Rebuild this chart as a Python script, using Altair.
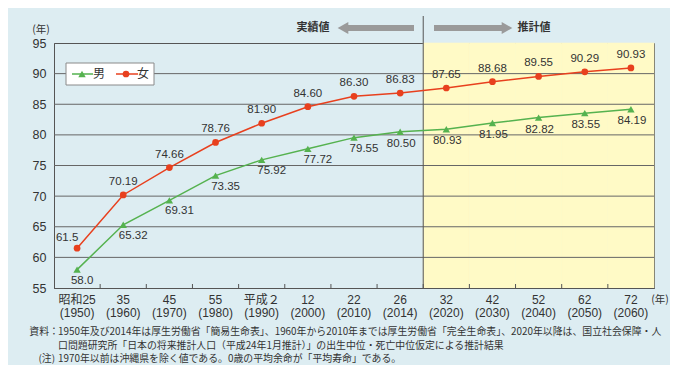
import altair as alt
import pandas as pd

cats = ["昭和25\n(1950)", "35\n(1960)", "45\n(1970)", "55\n(1980)", "平成２\n(1990)",
        "12\n(2000)", "22\n(2010)", "26\n(2014)", "32\n(2020)", "42\n(2030)",
        "52\n(2040)", "62\n(2050)", "72\n(2060)"]
male = [58.0, 65.32, 69.31, 73.35, 75.92, 77.72, 79.55, 80.50, 80.93, 81.95, 82.82, 83.55, 84.19]
female = [61.5, 70.19, 74.66, 78.76, 81.90, 84.60, 86.30, 86.83, 87.65, 88.68, 89.55, 90.29, 90.93]
male_labels = ["58.0", "65.32", "69.31", "73.35", "75.92", "77.72", "79.55", "80.50",
               "80.93", "81.95", "82.82", "83.55", "84.19"]
female_labels = ["61.5", "70.19", "74.66", "78.76", "81.90", "84.60", "86.30", "86.83",
                 "87.65", "88.68", "89.55", "90.29", "90.93"]
projection_start = 8  # index of first projected category
y_ticks = [55, 60, 65, 70, 75, 80, 85, 90, 95]
grid_vals = [60, 65, 70, 75, 80, 85, 90]

note_src_1 = "1950年及び2014年は厚生労働省「簡易生命表」、1960年から2010年までは厚生労働省「完全生命表」、2020年以降は、国立社会保障・人"
note_src_2 = "口問題研究所「日本の将来推計人口（平成24年1月推計）」の出生中位・死亡中位仮定による推計結果"
note_3 = "1970年以前は沖縄県を除く値である。0歳の平均余命が「平均寿命」である。"

GREEN = "#55b24f"
RED = "#e8401e"
GRID = "#666666"
AX = "#555555"
TXT = "#333333"
FONT = "Liberation Sans, Noto Sans CJK JP"
JFONT = "Noto Sans CJK JP"

df = pd.DataFrame({"cat": cats, "male": male, "female": female,
                   "ml": male_labels, "fl": female_labels, "idx": list(range(len(cats)))})
future = df[df["idx"] >= projection_start]
W, H = 600, 245

xscale = alt.Scale(type="band", domain=cats, paddingInner=0, paddingOuter=0)
xaxis = alt.Axis(title=None, ticks=False, domainColor=AX, labelColor=TXT, labelFont=FONT,
                 labelFontSize=12, labelPadding=6, labelLineHeight=13, labelBaseline="top",
                 labelExpr="split(datum.label, '\\n')", labelAngle=0)
X = alt.X("cat:N", scale=xscale, axis=xaxis, sort=cats)
yscale = alt.Scale(domain=[55, 95], nice=False, zero=False)
yaxis = alt.Axis(title=None, values=y_ticks, grid=False, ticks=False, domainColor=AX,
                 labelColor=TXT, labelFont=FONT, labelFontSize=12.5, labelPadding=8)

base = alt.Chart(df)

yellow = alt.Chart(future).mark_rect(color="#fffac6", stroke="#fffac6", strokeWidth=0.6).encode(
    x=X, y=alt.datum(95, scale=yscale, axis=yaxis), y2=alt.datum(55))

grid = alt.Chart(pd.DataFrame({"g": grid_vals})).mark_rule(color=GRID, strokeWidth=1).encode(
    y=alt.Y("g:Q", scale=yscale, axis=yaxis))

xt = alt.Chart(df[df["idx"] >= 1]).mark_rule(color=AX, strokeWidth=1).encode(
    x=alt.X("cat:N", scale=xscale, axis=xaxis, sort=cats, bandPosition=0),
    y=alt.value(H), y2=alt.value(H - 4))

divider = alt.Chart(df[df["idx"] == projection_start]).mark_rule(color=AX, strokeWidth=1).encode(
    x=alt.X("cat:N", scale=xscale, axis=xaxis, sort=cats, bandPosition=0),
    y=alt.value(-27), y2=alt.value(H))

Ym = alt.Y("male:Q", scale=yscale, axis=yaxis)
Yf = alt.Y("female:Q", scale=yscale, axis=yaxis)

m_line = base.mark_line(color=GREEN, strokeWidth=1.5).encode(x=X, y=Ym)
m_pt = base.mark_point(shape="triangle-up", filled=True, color=GREEN, size=55, opacity=1).encode(x=X, y=Ym)
f_line = base.mark_line(color=RED, strokeWidth=1.5).encode(x=X, y=Yf)
f_pt = base.mark_point(shape="circle", filled=True, color=RED, size=45, opacity=1).encode(x=X, y=Yf)

tstyle = dict(font=FONT, fontSize=11.5, color=TXT)
f_lab0 = alt.Chart(df[df["idx"] == 0]).mark_text(dx=-10, dy=-10, **tstyle).encode(x=X, y=Yf, text="fl:N")
f_lab = alt.Chart(df[df["idx"] >= 1]).mark_text(dy=-13, **tstyle).encode(x=X, y=Yf, text="fl:N")
m_lab0 = alt.Chart(df[df["idx"] == 0]).mark_text(dx=5, dy=11, **tstyle).encode(x=X, y=Ym, text="ml:N")
m_lab1 = alt.Chart(df[(df["idx"] >= 1) & (df["idx"] <= 6)]).mark_text(dx=10, dy=11, **tstyle).encode(x=X, y=Ym, text="ml:N")
m_lab2 = alt.Chart(df[df["idx"] >= 7]).mark_text(dx=1, dy=12, **tstyle).encode(x=X, y=Ym, text="ml:N")

one = alt.Chart(pd.DataFrame({"k": [0]}))

# legend
leg_box = one.mark_rect(fill="white", stroke="#8a8a8a", strokeWidth=1).encode(
    x=alt.value(12), x2=alt.value(100), y=alt.value(20), y2=alt.value(42))
leg_gl = one.mark_rule(color=GREEN, strokeWidth=1.5).encode(x=alt.value(18), x2=alt.value(39), y=alt.value(31))
leg_gp = one.mark_point(shape="triangle-up", filled=True, color=GREEN, size=55, opacity=1).encode(
    x=alt.value(28), y=alt.value(31))
leg_gt = one.mark_text(text="男", font=JFONT, fontSize=12, color=TXT).encode(x=alt.value(45), y=alt.value(31))
leg_rl = one.mark_rule(color=RED, strokeWidth=1.5).encode(x=alt.value(62), x2=alt.value(84), y=alt.value(31))
leg_rp = one.mark_point(shape="circle", filled=True, color=RED, size=45, opacity=1).encode(
    x=alt.value(72), y=alt.value(31))
leg_rt = one.mark_text(text="女", font=JFONT, fontSize=12, color=TXT).encode(x=alt.value(89), y=alt.value(31))

# arrows and headers
ARW = "#9a9a9a"
a1 = one.mark_rule(color=ARW, strokeWidth=6).encode(x=alt.value(292), x2=alt.value(360), y=alt.value(-15))
a1h = one.mark_point(shape="triangle-left", filled=True, color=ARW, size=150, opacity=1).encode(
    x=alt.value(289), y=alt.value(-15))
a2 = one.mark_rule(color=ARW, strokeWidth=6).encode(x=alt.value(380), x2=alt.value(449), y=alt.value(-15))
a2h = one.mark_point(shape="triangle-right", filled=True, color=ARW, size=150, opacity=1).encode(
    x=alt.value(453), y=alt.value(-15))
t1 = one.mark_text(text="実績値", font=JFONT, fontSize=11, fontWeight="bold", color=TXT).encode(
    x=alt.value(259), y=alt.value(-15))
t2 = one.mark_text(text="推計値", font=JFONT, fontSize=11, fontWeight="bold", color=TXT).encode(
    x=alt.value(480), y=alt.value(-15))
yunit = one.mark_text(text="(年)", font=JFONT, fontSize=10.5, color=TXT).encode(
    x=alt.value(-13), y=alt.value(-13))
xunit = one.mark_text(text="(年)", font=JFONT, fontSize=10.5, color=TXT).encode(
    x=alt.value(606), y=alt.value(257))

nstyle = dict(font=JFONT, fontSize=9.9, color=TXT, align="left", baseline="middle")
n1a = one.mark_text(text="資料：", font=JFONT, fontSize=9.9, color=TXT, align="right", baseline="middle").encode(
    x=alt.value(5), y=alt.value(289))
n1b = one.mark_text(text=note_src_1, **nstyle).encode(x=alt.value(4), y=alt.value(289))
n2 = one.mark_text(text=note_src_2, **nstyle).encode(x=alt.value(4), y=alt.value(302.5))
n3a = one.mark_text(text="(注)", font=JFONT, fontSize=9.9, color=TXT, align="right", baseline="middle").encode(
    x=alt.value(1), y=alt.value(316))
n3b = one.mark_text(text=note_3, **nstyle).encode(x=alt.value(4), y=alt.value(316))

chart = alt.layer(
    yellow, grid, xt, divider,
    m_line, f_line, m_pt, f_pt,
    f_lab0, f_lab, m_lab0, m_lab1, m_lab2,
    leg_box, leg_gl, leg_gp, leg_gt, leg_rl, leg_rp, leg_rt,
    a1, a1h, a2, a2h, t1, t2, yunit, xunit,
    n1a, n1b, n2, n3a, n3b,
).properties(
    width=W, height=H, background="#ddedf2",
    autosize=alt.AutoSizeParams(type="none"),
    padding={"left": 46, "top": 35, "right": 16, "bottom": 77},
).configure_view(stroke=AX, strokeWidth=1)

chart.save("out.html", embed_options={"renderer": "svg", "actions": False})
